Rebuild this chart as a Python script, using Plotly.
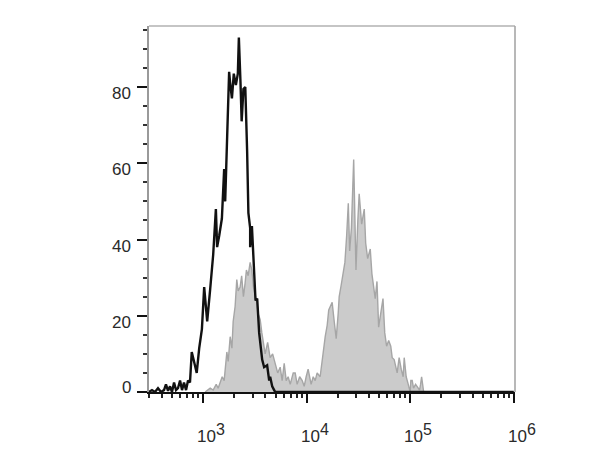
import math
import plotly.graph_objects as go

# Control (unstained) histogram: fluorescence (log10 units) and event counts
ctrl_log = [2.477, 2.506, 2.535, 2.564, 2.593, 2.622, 2.641, 2.661, 2.680, 2.699,
            2.719, 2.738, 2.757, 2.777, 2.796, 2.815, 2.835, 2.854, 2.873, 2.890,
            2.912, 2.938, 2.962, 2.988, 3.010, 3.024, 3.039, 3.068, 3.097, 3.123,
            3.135, 3.155, 3.181, 3.203, 3.213, 3.232, 3.251, 3.261, 3.278, 3.296,
            3.316, 3.335, 3.345, 3.361, 3.372, 3.389, 3.407, 3.425, 3.437, 3.454,
            3.454, 3.471, 3.486, 3.493, 3.506, 3.522, 3.541, 3.570, 3.589, 3.618,
            3.638, 3.647, 3.667, 3.686, 3.696, 3.715, 3.734, 3.753, 3.80, 6.0]
ctrl_cnt = [0, 0.5, 0, 1, 0, 0.5, 2, 0.3, 1.5, 0,
            2.5, 0.5, 1, 3, 0.5, 2.5, 0.5, 3, 2.5, 10.5,
            8, 5, 11.5, 16.5, 27.5, 22.5, 18.5, 27, 36, 48,
            38, 41, 45.5, 58.5, 50, 67, 84, 81, 77, 83.5,
            80.5, 83.5, 93, 81, 71, 79.5, 80, 63, 47, 43,
            38, 43.5, 36, 31, 24, 24.5, 15.5, 8.5, 6.5, 7,
            3, 4, 1.5, 0.5, 0, 0, 0, 0, 0, 0]

# Stained sample histogram
stain_log = [3.019, 3.048, 3.068, 3.097, 3.126, 3.145, 3.164, 3.184, 3.203, 3.229,
             3.242, 3.261, 3.278, 3.290, 3.309, 3.325, 3.338, 3.357, 3.372, 3.389,
             3.405, 3.418, 3.435, 3.454, 3.470, 3.486, 3.502, 3.519, 3.531, 3.551,
             3.567, 3.585, 3.599, 3.623, 3.647, 3.671, 3.696, 3.720, 3.744, 3.763,
             3.783, 3.802, 3.821, 3.841, 3.870, 3.889, 3.908, 3.932, 3.957, 3.976,
             3.995, 4.014, 4.043, 4.063, 4.082, 4.101, 4.130, 4.150, 4.164, 4.179,
             4.198, 4.213, 4.229, 4.246, 4.266, 4.285, 4.304, 4.314, 4.333, 4.353,
             4.369, 4.386, 4.402, 4.415, 4.432, 4.454, 4.476, 4.494, 4.507, 4.531,
             4.556, 4.570, 4.589, 4.614, 4.630, 4.662, 4.679, 4.695, 4.718, 4.737,
             4.754, 4.772, 4.792, 4.812, 4.826, 4.845, 4.874, 4.893, 4.913, 4.932,
             4.942, 4.952, 4.961, 4.981, 5.0,
             5.006, 5.019, 5.032, 5.052, 5.071, 5.090, 5.100, 5.110, 5.13, 6.0]
stain_cnt = [0, 0.5, 1, 0.5, 2, 1, 2.5, 4, 3, 10.5,
             8, 14.5, 11.5, 18.5, 22.5, 29.5, 26.5, 27.5, 30.5, 25,
             28.5, 32, 30.5, 34, 32, 27.5, 25.5, 23.5, 20.5, 19,
             15.5, 12, 10, 13, 9, 10, 7.5, 5, 6.5, 3,
             7.5, 3, 4, 2, 5, 5, 2, 4, 3, 1.5,
             4, 6, 2, 4, 3, 5, 4, 8.5, 10.5, 14.5,
             17.5, 21.5, 22.5, 23.5, 18.5, 14, 20.5, 25, 28, 32,
             34, 41, 49.5, 37, 43, 61, 32, 45, 52, 44,
             48, 39, 35, 37.5, 31, 24.5, 29, 17, 20.5, 24.5,
             15.5, 12, 13.5, 12, 9, 8.5, 5, 9, 6, 4,
             9, 5, 4, 2, 0,
             3, 3, 1, 2, 1.3, 0.5, 2, 4, 0, 0]

x_tick_vals = [1e3, 1e4, 1e5, 1e6]
x_tick_exp = ["3", "4", "5", "6"]
y_tick_vals = [0, 20, 40, 60, 80]
y_tick_text = ["0", "20", "40", "60", "80"]

minor_x = []
for dec in [100, 1000, 10000, 100000]:
    for m in range(2, 10):
        v = m * dec
        if v >= 300:
            minor_x.append(v)

ctrl_x = [10 ** v for v in ctrl_log]
stain_x = [10 ** v for v in stain_log]

FONT = "Liberation Sans, Arial, sans-serif"
LABEL_COLOR = "#2a2a2a"

fig = go.Figure()
fig.add_trace(go.Scatter(
    x=stain_x, y=stain_cnt, mode="lines", fill="tozeroy",
    fillcolor="#cbcbcb", line=dict(color="#a6a6a6", width=1.4),
    showlegend=False, hoverinfo="skip"))
fig.add_trace(go.Scatter(
    x=ctrl_x, y=ctrl_cnt, mode="lines",
    line=dict(color="#111111", width=2.4),
    showlegend=False, hoverinfo="skip"))

annotations = []
for v, e in zip(x_tick_vals, x_tick_exp):
    # annotation x on a log axis is given in log10 units
    annotations.append(dict(
        x=math.log10(v), xref="x", y=0, yref="paper", xanchor="left", yanchor="top",
        xshift=-8, yshift=-27, showarrow=False,
        text="10<sup><span style='font-size:16px'>" + e + "</span></sup>",
        font=dict(family=FONT, size=17, color=LABEL_COLOR)))
for v, t in zip(y_tick_vals, y_tick_text):
    annotations.append(dict(
        x=0, xref="paper", y=v, yref="y", xanchor="right", yanchor="middle",
        xshift=-16, yshift=(5 if v == 0 else -6.5), showarrow=False,
        text=t, font=dict(family=FONT, size=17, color=LABEL_COLOR)))

fig.update_layout(
    width=602, height=451,
    margin=dict(l=141, r=95, t=18, b=67),
    paper_bgcolor="white", plot_bgcolor="white",
    font=dict(family=FONT, color=LABEL_COLOR),
    xaxis=dict(
        type="log", range=[2.4771, 6.012],
        tickvals=x_tick_vals, showticklabels=False,
        ticks="outside", ticklen=9, tickwidth=2, tickcolor="#111111",
        showline=True, linecolor="#111111", linewidth=2,
        showgrid=False, zeroline=False,
        minor=dict(tickvals=minor_x, ticks="outside", ticklen=4,
                   tickwidth=1.5, tickcolor="#222222", showgrid=False),
    ),
    yaxis=dict(
        range=[0, 96],
        tickvals=y_tick_vals, showticklabels=False,
        ticks="outside", ticklen=10, tickwidth=2, tickcolor="#111111",
        showline=True, linecolor="#9a9a9a", linewidth=1.5,
        showgrid=False, zeroline=False,
        minor=dict(dtick=5, ticks="outside", ticklen=4, tickwidth=1.5,
                   tickcolor="#333333", showgrid=False),
    ),
    annotations=annotations,
    shapes=[
        dict(type="line", xref="paper", yref="paper", x0=0, x1=1, y0=1, y1=1,
             line=dict(color="#8c8c8c", width=1.2)),
        dict(type="line", xref="paper", yref="paper", x0=1, x1=1, y0=0, y1=1,
             line=dict(color="#a0a0a0", width=1.5)),
    ],
)

fig.write_html("out.html")
